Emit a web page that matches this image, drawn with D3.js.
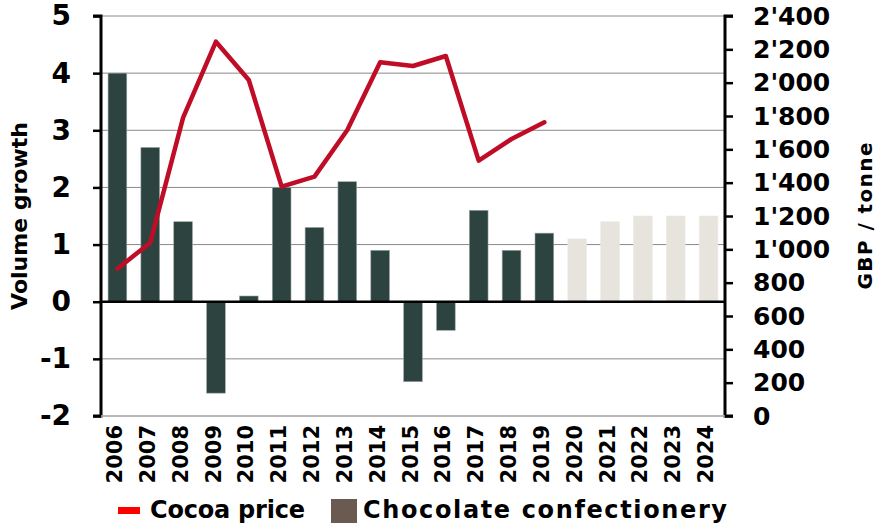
<!DOCTYPE html>
<html>
<head>
<meta charset="utf-8">
<script src="https://cdn.jsdelivr.net/npm/d3@7"></script>
<style>
  body { margin: 0; background: #fff; }
  text { font-family: "DejaVu Sans", sans-serif; font-weight: bold; fill: #000; }
</style>
</head>
<body>
<script>
// data
const years = ["2006","2007","2008","2009","2010","2011","2012","2013","2014","2015",
               "2016","2017","2018","2019","2020","2021","2022","2023","2024"];
const volumeActual = [4.0, 2.7, 1.4, -1.6, 0.1, 2.0, 1.3, 2.1, 0.9, -1.4, -0.5, 1.6, 0.9, 1.2];
const volumeForecast = [1.1, 1.4, 1.5, 1.5, 1.5];
const cocoaPrice = [884, 1040, 1790, 2246, 2016, 1376, 1436, 1716, 2122, 2100, 2160, 1532, 1662, 1762];
const leftTicks = [-2, -1, 0, 1, 2, 3, 4, 5];
const rightTicks = [0, 200, 400, 600, 800, 1000, 1200, 1400, 1600, 1800, 2000, 2200, 2400];

const W = 877, H = 526;
const plot = {left: 101, right: 725, top: 16, bottom: 416};

const svg = d3.select("body").append("svg")
  .attr("width", W).attr("height", H);

const x = d3.scaleBand()
  .domain(years)
  .range([plot.left, plot.right])
  .paddingInner(0.43)
  .paddingOuter(0.215);

const y = d3.scaleLinear().domain([-2, 5]).range([plot.bottom, plot.top]);
const y2 = d3.scaleLinear().domain([0, 2400]).range([plot.bottom, plot.top]);

// gridlines
svg.append("g")
  .selectAll("line")
  .data(leftTicks.filter(d => d !== 0))
  .join("line")
  .attr("x1", plot.left).attr("x2", plot.right)
  .attr("y1", d => y(d)).attr("y2", d => y(d))
  .attr("stroke", "#8a8a8a").attr("stroke-width", 1);

// bars
const bars = volumeActual.map((v, i) => ({year: years[i], v: v, f: false}))
  .concat(volumeForecast.map((v, i) => ({year: years[volumeActual.length + i], v: v, f: true})));

svg.append("g")
  .selectAll("rect")
  .data(bars)
  .join("rect")
  .attr("x", d => x(d.year))
  .attr("width", x.bandwidth())
  .attr("y", d => y(Math.max(0, d.v)))
  .attr("height", d => Math.abs(y(d.v) - y(0)))
  .attr("fill", d => d.f ? "#e6e4dd" : "#2d4340")
  .attr("stroke", d => d.f ? "#eceae4" : "#9aa8a6")
  .attr("stroke-width", 0.6);

// zero line
svg.append("line")
  .attr("x1", plot.left).attr("x2", plot.right)
  .attr("y1", y(0)).attr("y2", y(0))
  .attr("stroke", "#000").attr("stroke-width", 2.5);

// cocoa price line
svg.append("path")
  .datum(cocoaPrice)
  .attr("fill", "none")
  .attr("stroke", "#c00d27")
  .attr("stroke-width", 4.5)
  .attr("stroke-linejoin", "round")
  .attr("stroke-linecap", "round")
  .attr("d", d3.line()
    .x((d, i) => x(years[i]) + x.bandwidth() / 2)
    .y(d => y2(d)));

// left axis
const leftAxis = svg.append("g")
  .attr("transform", `translate(${plot.left},0)`)
  .call(d3.axisLeft(y).tickValues(leftTicks).tickSize(8).tickPadding(22).tickFormat(d => String(d)));
leftAxis.select(".domain").attr("stroke", "#000").attr("stroke-width", 3)
  .attr("d", `M-8,${plot.top}H0V${plot.bottom}H-8`);
leftAxis.selectAll(".tick line").attr("stroke-width", 2.5);
leftAxis.selectAll(".tick text")
  .style("font-size", "28px").style("font-family", "'DejaVu Sans', sans-serif").style("font-weight", "bold")
  .attr("fill", "#000");

// right axis
const fmtRight = d => d >= 1000 ? Math.floor(d / 1000) + "'" + String(d % 1000).padStart(3, "0") : String(d);
const rightAxis = svg.append("g")
  .attr("transform", `translate(${plot.right},0)`)
  .call(d3.axisRight(y2).tickValues(rightTicks).tickSize(8).tickPadding(20).tickFormat(fmtRight));
rightAxis.select(".domain").attr("stroke", "#000").attr("stroke-width", 3)
  .attr("d", `M8,${plot.top}H0V${plot.bottom}H8`);
rightAxis.selectAll(".tick line").attr("stroke-width", 2.5);
rightAxis.selectAll(".tick text")
  .style("font-size", "25px").style("font-family", "'DejaVu Sans', sans-serif").style("font-weight", "bold")
  .attr("fill", "#000");

// bottom line of plot
svg.append("line")
  .attr("x1", plot.left).attr("x2", plot.right)
  .attr("y1", plot.bottom).attr("y2", plot.bottom)
  .attr("stroke", "#b5b5b5").attr("stroke-width", 1.5);

// x labels
svg.append("g")
  .selectAll("text")
  .data(years)
  .join("text")
  .attr("transform", d => `translate(${x(d) + x.bandwidth() / 2 - 3},${plot.bottom + 9}) rotate(-90)`)
  .attr("text-anchor", "end")
  .attr("dy", "0.36em")
  .style("font-size", "21px")
  .text(d => d);

// axis titles
svg.append("text")
  .attr("transform", `translate(27,216) rotate(-90)`)
  .attr("text-anchor", "middle")
  .style("font-size", "22px")
  .text("Volume growth");

svg.append("text")
  .attr("transform", `translate(872,216) rotate(-90)`)
  .attr("text-anchor", "middle")
  .style("font-size", "20px")
  .attr("textLength", 147)
  .text("GBP / tonne");

// legend
const legend = svg.append("g");
legend.append("rect")
  .attr("x", 118).attr("y", 507).attr("width", 22).attr("height", 7)
  .attr("fill", "#ff0000");
legend.append("text")
  .attr("x", 150).attr("y", 518)
  .style("font-size", "24px")
  .attr("textLength", 155)
  .text("Cocoa price");
legend.append("rect")
  .attr("x", 331).attr("y", 499).attr("width", 26).attr("height", 24)
  .attr("fill", "#6b5a50");
legend.append("text")
  .attr("x", 363).attr("y", 518)
  .style("font-size", "24px")
  .attr("textLength", 364)
  .text("Chocolate confectionery");
</script>
</body>
</html>
